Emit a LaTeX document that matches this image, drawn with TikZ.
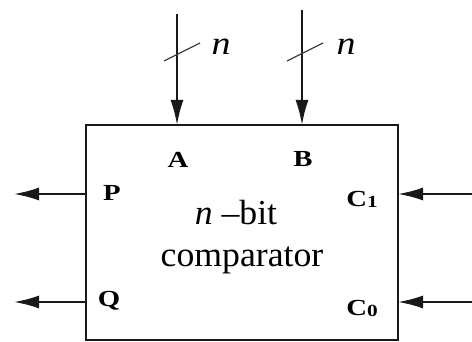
\documentclass[tikz,border=0pt]{standalone}
\usepackage{fontspec}
\setmainfont{Liberation Serif}
\usetikzlibrary{arrows.meta}
\begin{document}
\begin{tikzpicture}[x=1pt,y=-1pt,
  ln/.style={line width=1.9pt, draw=black!90},
  arr/.style={ln, -{Latex[length=25pt,width=13pt]}},
  slash/.style={line width=1.3pt, draw=black!75},
  lbl/.style={font=\fontsize{23}{23}\selectfont\bfseries, xscale=1.25, inner sep=0, anchor=base},
  big/.style={font=\fontsize{35}{35}\selectfont, xscale=1.02, inner sep=0, anchor=base},
  nlab/.style={font=\fontsize{33}{33}\selectfont\itshape, xscale=1.15, inner sep=0, anchor=base},
]
\useasboundingbox (0,0) rectangle (472,342);
\node[ln, draw, outer sep=0, inner sep=0, minimum width=312pt, minimum height=215pt, anchor=north west] (box) at (86,125) {};
% inputs A and B
\coordinate (a0) at (177,14);
\coordinate (b0) at (302,10);
\draw[arr] (a0) -- (a0 |- box.north);
\draw[arr] (b0) -- (b0 |- box.north);
\coordinate (sa1) at (164,61); \coordinate (sa2) at (200,43);
\coordinate (sb1) at (287,61); \coordinate (sb2) at (323,43);
\draw[slash] (sa1) -- (sa2);
\draw[slash] (sb1) -- (sb2);
\node[nlab] (na) at (221,55) {n};
\node[nlab] (nb) at (346,55) {n};
% outputs P and Q
\coordinate (pout) at (14,194);
\coordinate (qout) at (14,302);
\draw[arr] (box.west |- pout) -- (pout);
\draw[arr] (box.west |- qout) -- (qout);
% inputs C1 and C0
\coordinate (c1in) at (472,194);
\coordinate (c0in) at (472,302);
\draw[arr] (c1in) -- (c1in -| box.east);
\draw[arr] (c0in) -- (c0in -| box.east);
% labels
\node[lbl] (la) at (178,168) {A};
\node[lbl] (lb) at (303,167) {B};
\node[lbl] (lp) at (112,201) {P};
\node[lbl] (lq) at (109,307) {Q};
\node[lbl] (lc1) at (362,207) {C\raisebox{-1pt}{\fontsize{17}{17}\selectfont 1}};
\node[lbl] (lc0) at (362,316) {C\raisebox{-1pt}{\fontsize{17}{17}\selectfont 0}};
\node[big] (t1) at (236,225) {\textit{n} \mbox{–bit}};
\node[big] (t2) at (242,267) {comparator};
\end{tikzpicture}
\end{document}
